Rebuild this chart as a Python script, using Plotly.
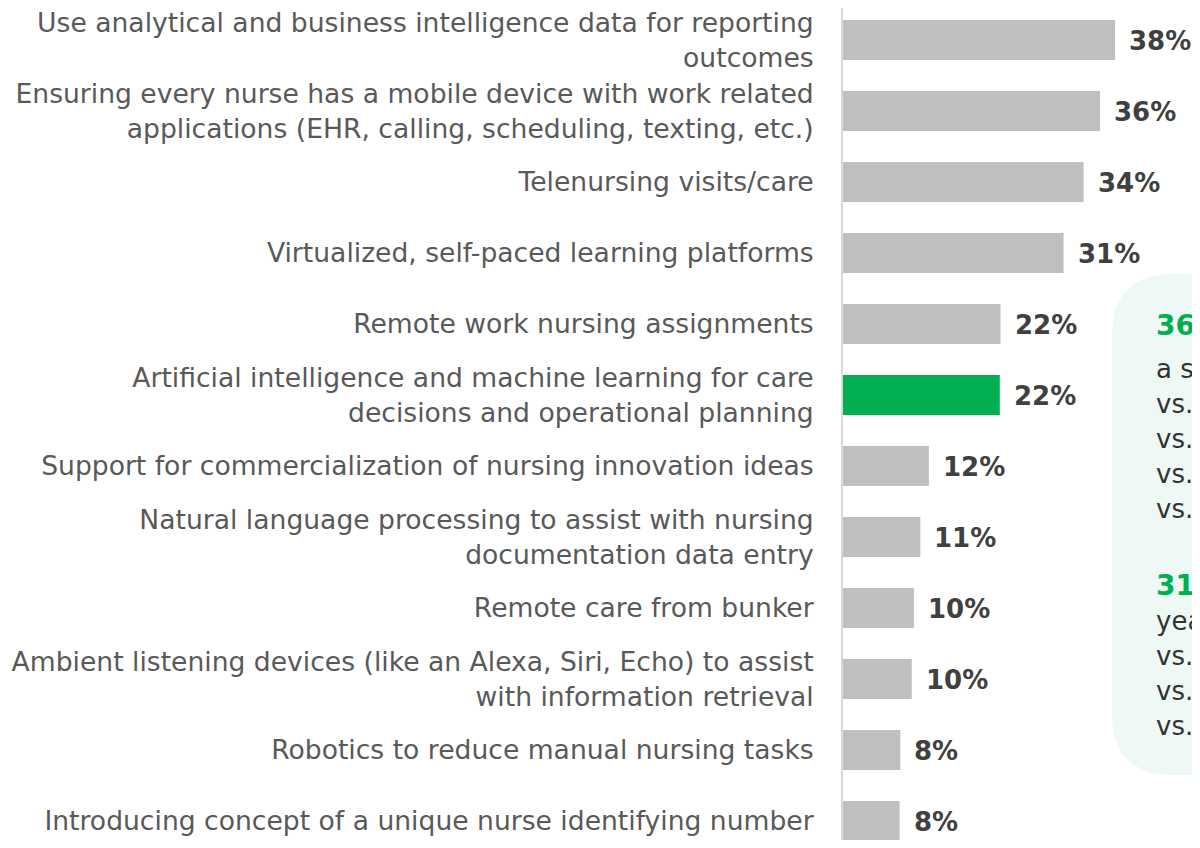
import plotly.graph_objects as go

# Survey items, top to bottom
labels = [
    "Use analytical and business intelligence data for reporting<br>outcomes",
    "Ensuring every nurse has a mobile device with work related<br>applications (EHR, calling, scheduling, texting, etc.)",
    "Telenursing visits/care",
    "Virtualized, self-paced learning platforms",
    "Remote work nursing assignments",
    "Artificial intelligence and machine learning for care<br>decisions and operational planning",
    "Support for commercialization of nursing innovation ideas",
    "Natural language processing to assist with nursing<br>documentation data entry",
    "Remote care from bunker",
    "Ambient listening devices (like an Alexa, Siri, Echo) to assist<br>with information retrieval",
    "Robotics to reduce manual nursing tasks",
    "Introducing concept of a unique nurse identifying number",
]
values = [38.0, 35.9, 33.6, 30.8, 22.0, 21.9, 12.0, 10.8, 9.9, 9.6, 8.0, 7.9]
highlight = "Artificial intelligence and machine learning for care<br>decisions and operational planning"

# Callout text (cut off at the right edge in the original)
callout_1_head = "36%"
callout_1_lines = ["a score of 4 or 5", "vs. 29% in 2023", "vs. 17% in 2022", "vs. 15% in 2021", "vs. 12% in 2020"]
callout_2_head = "31%"
callout_2_lines = ["year over year", "vs. 24% in 2023", "vs. 21% in 2022", "vs. 18% in 2021"]

GREY = "#BFBFBF"
GREEN = "#00B050"
FONT = "DejaVu Sans"

# the page puts the figure 8px in from the top-left corner
OFF = 8
W, H = 1200, 832
L, R, T, B = 843 - OFF, 0, 0, 0
plot_w = W - L - R
plot_h = H - T - B


def px_x(x):
    return (x - OFF - L) / plot_w


def px_y(y):
    return (H - B - (y - OFF)) / plot_h


colors = [GREEN if lab == highlight else GREY for lab in labels]

fig = go.Figure()
fig.add_trace(go.Bar(
    x=values,
    y=labels,
    orientation="h",
    marker=dict(color=colors, line=dict(width=0)),
    width=0.56,
    hoverinfo="skip",
))

# value labels
for lab, v in zip(labels, values):
    fig.add_annotation(
        x=v, y=lab, xref="x", yref="y",
        text=f"<b>{v:.0f}%</b>",
        showarrow=False, xanchor="left", yanchor="middle",
        xshift=12, yshift=-1,
        font=dict(family=FONT, size=26, color="#404040"),
    )

# rounded callout box (partly off the right edge)
x0, x1 = px_x(1112), px_x(1260)
y0, y1 = px_y(775), px_y(274)
rx, ry = 62 / plot_w, 62 / plot_h
path = (
    f"M {x0 + rx},{y1} L {x1},{y1} L {x1},{y0} L {x0 + rx},{y0} "
    f"Q {x0},{y0} {x0},{y0 + ry} L {x0},{y1 - ry} Q {x0},{y1} {x0 + rx},{y1} Z"
)
fig.add_shape(type="path", path=path, xref="paper", yref="paper",
              fillcolor="#EEF9F6", line=dict(width=0), layer="below")

tx = px_x(1154)


def add_block(head, lines, y_head, y_first):
    fig.add_annotation(
        x=tx, y=px_y(y_head), xref="paper", yref="paper",
        text=f"<b>{head}</b>", showarrow=False,
        xanchor="left", yanchor="middle",
        font=dict(family=FONT, size=28, color=GREEN),
    )
    for i, line in enumerate(lines):
        fig.add_annotation(
            x=tx, y=px_y(y_first + 35 * i), xref="paper", yref="paper",
            text=line, showarrow=False,
            xanchor="left", yanchor="middle",
            font=dict(family=FONT, size=26, color="#333333"),
        )


add_block(callout_1_head, callout_1_lines, 325, 369)
add_block(callout_2_head, callout_2_lines, 585, 621)

fig.update_layout(
    width=W, height=H,
    margin=dict(l=L, r=R, t=T, b=B),
    paper_bgcolor="white",
    plot_bgcolor="white",
    showlegend=False,
    xaxis=dict(
        range=[0, plot_w / 7.16],
        visible=False,
        fixedrange=True,
    ),
    yaxis=dict(
        categoryorder="array",
        categoryarray=labels,
        range=[(H - 32) / 71, -32 / 71],
        showgrid=False,
        zeroline=False,
        showline=True,
        linecolor="#D9D9D9",
        linewidth=2,
        ticks="",
        ticklabelstandoff=22,
        tickfont=dict(family=FONT, size=26.6, color="#595959"),
        automargin=False,
    ),
)

fig.write_html("out.html")
